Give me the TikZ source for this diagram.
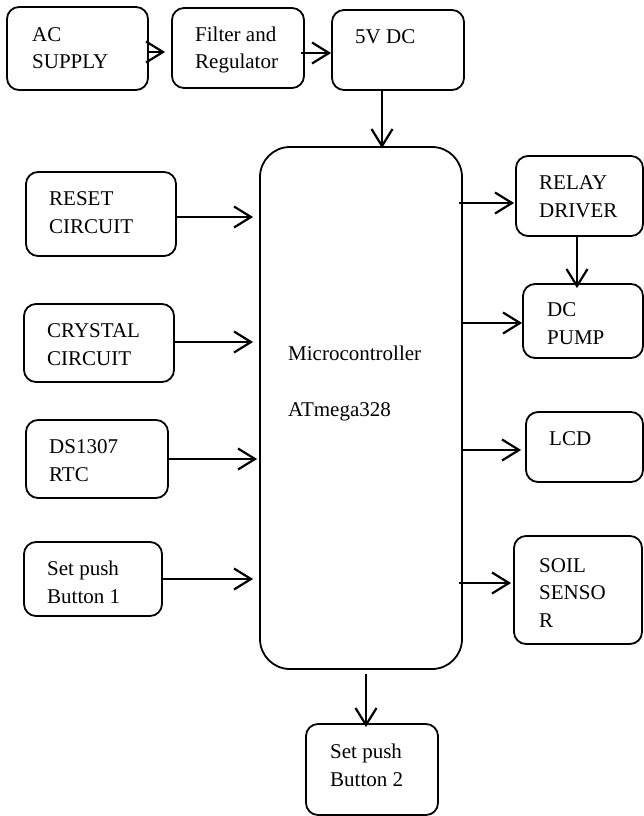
\documentclass[tikz,border=0pt]{standalone}
\usepackage{fontspec}
\setmainfont{Liberation Serif}
\usetikzlibrary{arrows.meta}

\begin{document}
\begin{tikzpicture}[
  x=1pt, y=-1pt,
  blk/.style={rectangle, draw, line width=1.8pt, rounded corners=12pt, inner sep=0pt},
  txt/.style={anchor=base west, align=left, inner sep=0pt, font=\fontsize{21}{27.5}\selectfont},
  arr/.style={line width=2.2pt, -{Straight Barb[length=17pt, width=21pt]}}
]
  \useasboundingbox (0,0) rectangle (644,816);

  %--- Supply chain ---
  \node[blk, minimum width=141pt, minimum height=83pt] (ac)  at (77.5, 48.5) {};
  \node[blk, minimum width=132pt, minimum height=80pt] (flt) at (238, 48) {};
  \node[blk, minimum width=132pt, minimum height=80pt] (dc5) at (398, 50) {};
  \node[txt] (acT)  at (32, 69)  {AC\\SUPPLY};
  \node[txt] (fltT) at (195, 69) {Filter and\\Regulator};
  \node[txt] (dc5T) at (355, 44) {5V DC};

  %--- Controller ---
  \node[blk, rounded corners=30pt, minimum width=202pt, minimum height=522pt] (mcu) at (361, 408) {};
  \node[txt] (mcuT) at (288, 360) {Microcontroller};
  \node[txt] (atT)  at (288, 416) {ATmega328};

  %--- Inputs ---
  \node[blk, minimum width=150pt, minimum height=84pt] (rst)  at (101, 214) {};
  \node[blk, minimum width=150pt, minimum height=78pt] (xtal) at (99, 343) {};
  \node[blk, minimum width=142pt, minimum height=78pt] (rtc)  at (97, 459) {};
  \node[blk, minimum width=138pt, minimum height=74pt] (sb1)  at (93, 579) {};
  \node[blk, minimum width=132pt, minimum height=91pt] (sb2)  at (372, 769.5) {};
  \node[txt] (rstT)  at (49, 233)  {RESET\\CIRCUIT};
  \node[txt] (xtalT) at (47, 365)  {CRYSTAL\\CIRCUIT};
  \node[txt] (rtcT)  at (49, 481)  {DS1307\\RTC};
  \node[txt] (sb1T)  at (47, 603)  {Set push\\Button 1};
  \node[txt] (sb2T)  at (330, 786) {Set push\\Button 2};

  %--- Outputs ---
  \node[blk, minimum width=127pt, minimum height=80pt]  (rly)  at (579.5, 196) {};
  \node[blk, minimum width=120pt, minimum height=74pt]  (pmp)  at (583, 321) {};
  \node[blk, minimum width=117pt, minimum height=70pt]  (lcd)  at (584.5, 447) {};
  \node[blk, minimum width=128pt, minimum height=108pt] (soil) at (578, 590) {};
  \node[txt] (rlyT)  at (539, 217) {RELAY\\DRIVER};
  \node[txt] (pmpT)  at (547, 344) {DC\\PUMP};
  \node[txt] (lcdT)  at (549, 445) {LCD};
  \node[txt] (soilT) at (539, 627) {SOIL\\SENSO\\R};

  % Connectors
  \draw[arr] (ac.east |- 0,52) -- ([xshift=-6pt]flt.west |- 0,52);
  \draw[arr] ([xshift=-4pt]flt.east |- 0,53) -- (dc5.west |- 0,53);
  \draw[arr] (dc5.south -| 382,0) -- ([yshift=-2pt]mcu.north -| 382,0);

  \draw[arr] (rst.east  |- 0,217) -- ([xshift=-6pt]mcu.west |- 0,217);
  \draw[arr] (xtal.east |- 0,342) -- ([xshift=-6pt]mcu.west |- 0,342);
  \draw[arr] (rtc.east  |- 0,459) -- ([xshift=-2pt]mcu.west |- 0,459);
  \draw[arr] (sb1.east  |- 0,579) -- ([xshift=-6pt]mcu.west |- 0,579);

  \draw[arr] ([xshift=-4pt]mcu.east |- 0,203) -- ([xshift=-1pt]rly.west |- 0,203);
  \draw[arr] (rly.south -| 577,0) -- ([yshift=-5pt]pmp.north -| 577,0);
  \draw[arr] (mcu.east |- 0,323) -- (pmp.west |- 0,323);
  \draw[arr] (mcu.east |- 0,450) -- ([xshift=-4pt]lcd.west |- 0,450);
  \draw[arr] ([xshift=-4pt]mcu.east |- 0,583) -- ([xshift=-2pt]soil.west |- 0,583);
  \draw[arr] ([yshift=-4pt]mcu.south -| 366,0) -- ([yshift=-4pt]sb2.north -| 366,0);
\end{tikzpicture}
\end{document}
